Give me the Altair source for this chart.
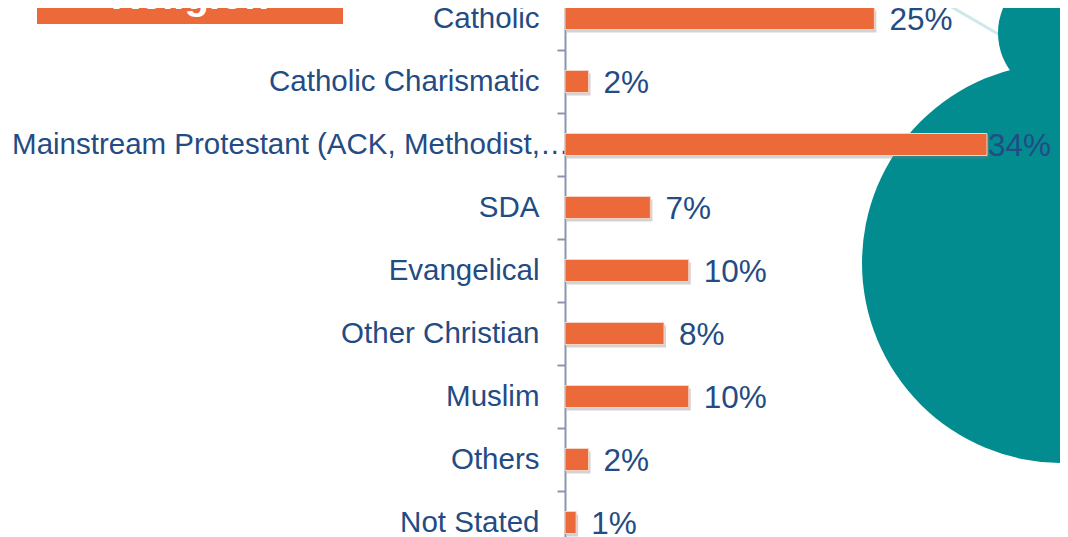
import math
import altair as alt
import pandas as pd

categories = [
    "Catholic",
    "Catholic Charismatic",
    "Mainstream Protestant (ACK, Methodist,…",
    "SDA",
    "Evangelical",
    "Other Christian",
    "Muslim",
    "Others",
    "Not Stated",
]
shares = [25, 1.9, 34.1, 6.9, 10, 8, 10, 1.9, 0.9]
share_labels = ["25%", "2%", "34%", "7%", "10%", "8%", "10%", "2%", "1%"]
title_text = "Religion"

df = pd.DataFrame({"category": categories, "share": shares, "label": share_labels})

FONT = "Liberation Sans"
ORANGE = "#EC6939"
TEAL = "#028C90"
NAVY = "#234B84"
AXIS = "#8C95B0"
LONG = categories[2]

one = alt.Data(values=[{"k": 1}])

y_enc = alt.Y(
    "category:N",
    sort=categories,
    scale=alt.Scale(domain=categories, range=[-21, 546], paddingInner=0, paddingOuter=0),
    axis=alt.Axis(
        title=None,
        domain=True,
        domainColor=AXIS,
        domainWidth=2,
        ticks=True,
        tickColor=AXIS,
        tickWidth=2,
        tickSize=8,
        tickBand="extent",
        grid=False,
        labelFont=FONT,
        labelFontSize=29.5,
        labelColor=NAVY,
        labelLimit=700,
        labelPadding={"condition": {"test": "datum.value === '" + LONG + "'", "value": -12}, "value": 18},
    ),
)
x_enc = alt.X("share:Q", scale=alt.Scale(domain=[0, 40], nice=False, zero=True), axis=None)

line = alt.Chart(one).mark_rule(color="#CFE8EA", strokeWidth=3).encode(
    x=alt.value(361), y=alt.value(-16), x2=alt.value(440), y2=alt.value(30)
)
big_circle = alt.Chart(one).mark_arc(
    color=TEAL, theta=math.pi, theta2=2 * math.pi, radius=200
).encode(x=alt.value(497), y=alt.value(255))
small_circle = alt.Chart(one).mark_arc(
    color=TEAL, theta=math.pi, theta2=2 * math.pi, radius=64
).encode(x=alt.value(497), y=alt.value(25))

title_box = alt.Chart(one).mark_rect(color=ORANGE).encode(
    x=alt.value(-528), x2=alt.value(-222), y=alt.value(-30), y2=alt.value(16)
)
title_label = alt.Chart(one).mark_text(
    text=title_text, font=FONT, fontSize=40, fontWeight="bold", color="white",
    align="center", baseline="alphabetic"
).encode(x=alt.value(-375), y=alt.value(1))

base = alt.Chart(df)
shadow = base.mark_bar(size=22, color="#808080", opacity=0.35, xOffset=2, yOffset=3).encode(x=x_enc, y=y_enc)
bars = base.mark_bar(size=22, color=ORANGE, stroke="#F6D3C4", strokeWidth=1).encode(x=x_enc, y=y_enc)
labels = base.transform_filter("datum.share < 30").mark_text(
    align="left", baseline="middle", dx=15, dy=2, font=FONT, fontSize=31.5, color=NAVY
).encode(x=x_enc, y=y_enc, text="label:N")
labels_big = base.transform_filter("datum.share >= 30").mark_text(
    align="left", baseline="middle", dx=1, dy=2, font=FONT, fontSize=31.5, color=NAVY
).encode(x=x_enc, y=y_enc, text="label:N")

chart = alt.layer(
    line, big_circle, small_circle, title_box, title_label, shadow, bars, labels, labels_big
).properties(
    width=495,
    height=529,
    padding={"left": 557, "top": 0, "right": 0, "bottom": 0},
    autosize="none",
    background="white",
).configure_view(strokeWidth=0)

chart.save("out.html", embed_options={"renderer": "svg", "actions": False})
